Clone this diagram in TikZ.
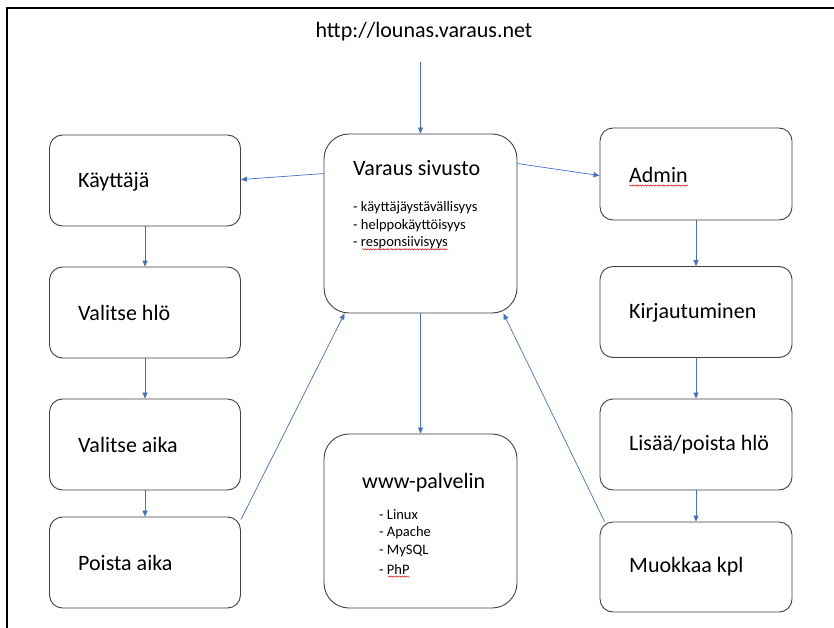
\documentclass[tikz,border=0pt]{standalone}
\usepackage{fontspec}
\setmainfont{Carlito}
\usetikzlibrary{arrows.meta,decorations.pathmorphing}
\definecolor{arr}{HTML}{4472C4}
\definecolor{bd}{HTML}{404040}
\tikzset{
  sbox/.style={draw=bd, line width=0.9pt, rounded corners=13pt, minimum width=191pt, minimum height=91pt, inner sep=0pt},
  bbox/.style={draw=bd, line width=0.9pt, rounded corners=25pt, minimum width=193pt, inner sep=0pt},
  lbl/.style={anchor=west, inner sep=0pt, font=\fontsize{22}{26}\selectfont},
  bul/.style={anchor=west, inner sep=0pt, font=\fontsize{14.5}{17}\selectfont},
  conn/.style={draw=arr, line width=0.7pt, -{Triangle[length=6pt,width=5pt]}},
  squig/.style={draw=red!85!black, line width=0.45pt, decorate, decoration={snake, amplitude=0.7pt, segment length=2.6pt}},
}
\begin{document}
\begin{tikzpicture}[x=1pt,y=-1pt]
\useasboundingbox (0,0) rectangle (834,628);
\fill[white] (0,0) rectangle (834,628);
\draw[line width=1.8pt] (7,628) -- (7,8) -- (834,8);

% URL
\node[inner sep=0pt, font=\fontsize{22}{26}\selectfont] (url) at (424,32) {http://lounas.varaus.net};
\coordinate (ustart) at (420.5,62);

% left column
\node[sbox] (k)  at (145,180.5) {};
\node[sbox] (vh) at (145,312.5) {};
\node[sbox] (va) at (145,444.5) {};
\node[sbox] (pa) at (145,562.5) {};
\node[lbl] (tk)  at (78,182) {Käyttäjä};
\node[lbl] (tvh) at (78,313) {Valitse hlö};
\node[lbl] (tva) at (78,445) {Valitse aika};
\node[lbl] (tpa) at (78,563) {Poista aika};

% middle column
\node[bbox, minimum height=179pt] (vs)  at (420.5,223.5) {};
\node[bbox, minimum height=174pt] (www) at (420.5,521) {};
\node[lbl] (tvs) at (353,168) {Varaus sivusto};
\node[bul] (vs1) at (353,208) {- käyttäjäystävällisyys};
\node[bul] (vs2) at (353,225.5) {- helppokäyttöisyys};
\node[bul] (vs3) at (353,243) {- responsiivisyys};
\node[lbl] (tw) at (362,483) {www-palvelin};
\node[bul] (w1) at (379,515) {- Linux};
\node[bul] (w2) at (379,533) {- Apache};
\node[bul] (w3) at (379,551) {- MySQL};
\node[bul] (w4) at (379,569) {- PhP};

% right column
\node[sbox, minimum width=192pt, minimum height=92pt] (ad) at (696,174) {};
\node[sbox, minimum width=192pt] (kj) at (696,312) {};
\node[sbox, minimum width=192pt] (lp) at (696,444.5) {};
\node[sbox, minimum width=192pt, minimum height=90pt] (mk) at (696,567) {};
\node[lbl] (tad) at (629,175) {Admin};
\node[lbl] (tkj) at (629,313) {Kirjautuminen};
\node[lbl] (tlp) at (629,445) {Lisää/poista hlö};
\node[lbl] (tmk) at (629,567) {Muokkaa kpl};

% spell-check underlines
\draw[squig] ([yshift=-3pt]tad.base west) -- ([yshift=-3pt]tad.base east);
\draw[squig] ([xshift=9pt,yshift=-2.5pt]vs3.base west) -- ([yshift=-2.5pt]vs3.base east);
\draw[squig] ([xshift=9pt,yshift=-2.5pt]w4.base west) -- ([yshift=-2.5pt]w4.base east);

% connectors
\draw[conn] (ustart) -- (vs.north);
\draw[conn] ([yshift=-40pt]vs.north west) -- ([yshift=-45pt]k.north east);
\draw[conn] ([yshift=-30pt]vs.north east) -- ([yshift=-48pt]ad.north west);
\draw[conn] (k.south) -- (vh.north);
\draw[conn] (vh.south) -- (va.north);
\draw[conn] (va.south) -- (pa.north);
\draw[conn] ([yshift=-3pt]pa.north east) -- ([xshift=21pt]vs.south west);
\draw[conn] (vs.south) -- (www.north);
\draw[conn] (ad.south) -- (kj.north);
\draw[conn] (kj.south) -- (lp.north);
\draw[conn] (lp.south) -- (mk.north);
\draw[conn] ([xshift=5pt]mk.north west) -- ([xshift=-14pt]vs.south east);
\end{tikzpicture}
\end{document}
